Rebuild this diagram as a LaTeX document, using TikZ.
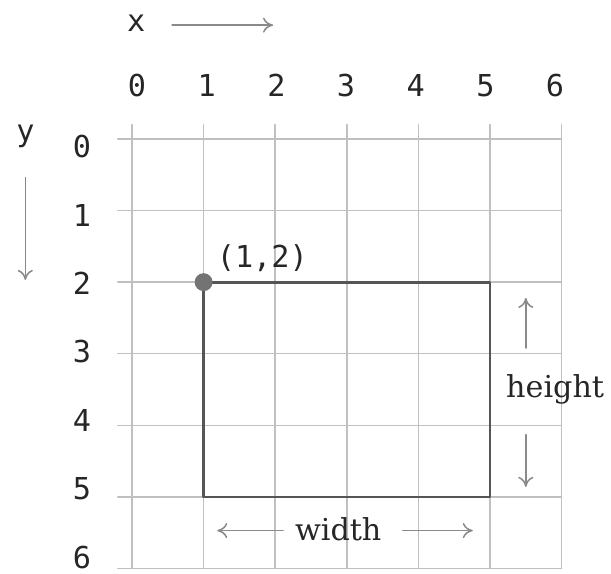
\documentclass[tikz,border=0pt]{standalone}
\usepackage{fontspec}
\setmonofont{DejaVu Sans Mono}
\newfontfamily\labelfont{DejaVu Serif}
\usepackage{xcolor}
\usepackage{tikz}
\usetikzlibrary{arrows.meta}

\definecolor{gridgray}{HTML}{C0C0C0}
\definecolor{boxgray}{HTML}{555555}
\definecolor{arrowgray}{HTML}{8A8A8A}

\tikzset{
    gridline/.style={gridgray, line width=0.6pt},
    numlabel/.style={font=\ttfamily\fontsize{12}{14}\selectfont, text=black!85, inner sep=0pt},
    wordlabel/.style={font=\labelfont\fontsize{12}{14}\selectfont, text=black!85, inner sep=0pt},
    hint/.style={->, arrowgray, line width=0.6pt}
}

\begin{document}
\begin{tikzpicture}[>={To[length=4pt,width=6pt]}, line cap=round, line join=round, x=1cm, y=-1cm]

\useasboundingbox (-1.844,-1.941) rectangle (6.690,6.075);

% Griglia
\foreach \i in {0,...,6} {
    \draw[gridline] (\i,-0.2) -- (\i,6);
    \draw[gridline] (-0.2,\i) -- (6,\i);
}

% Numeri sugli assi
\foreach \i in {0,...,6} {
    \node[numlabel] (xn\i) at ({0.07+0.973*\i},-0.75) {\i};
    \node[numlabel] (yn\i) at (-0.70,{0.11+0.955*\i}) {\i};
}

% Assi x e y
\node[numlabel] (xlab) at (0.06,-1.61) {x};
\coordinate (xa) at (0.56,-1.59);
\coordinate (xb) at (1.97,-1.59);
\draw[hint] (xa) -- (xb);

\node[numlabel] (ylab) at (-1.49,-0.03) {y};
\coordinate (ya) at (-1.49,0.54);
\coordinate (yb) at (-1.49,1.97);
\draw[hint] (ya) -- (yb);

% Rettangolo
\draw[boxgray, line width=1.1pt] (1,2) rectangle (5,5);

% Punto (1,2)
\fill[black!55] (1,2) circle (0.125);
\node[numlabel] (corner) at (1.82,1.66) {(1,2)};

% Altezza
\node[wordlabel] (height) at (5.91,3.5) {height};
\coordinate (hup) at (5.50,2.92);
\coordinate (hupend) at (5.50,2.22);
\coordinate (hdown) at (5.50,4.13);
\coordinate (hdownend) at (5.50,4.86);
\draw[hint] (hup) -- (hupend);
\draw[hint] (hdown) -- (hdownend);

% Larghezza
\node[wordlabel] (width) at (2.88,5.45) {width};
\coordinate (wl) at (2.11,5.47);
\coordinate (wlend) at (1.19,5.47);
\coordinate (wr) at (3.78,5.47);
\coordinate (wrend) at (4.76,5.47);
\draw[hint] (wl) -- (wlend);
\draw[hint] (wr) -- (wrend);

\end{tikzpicture}
\end{document}
